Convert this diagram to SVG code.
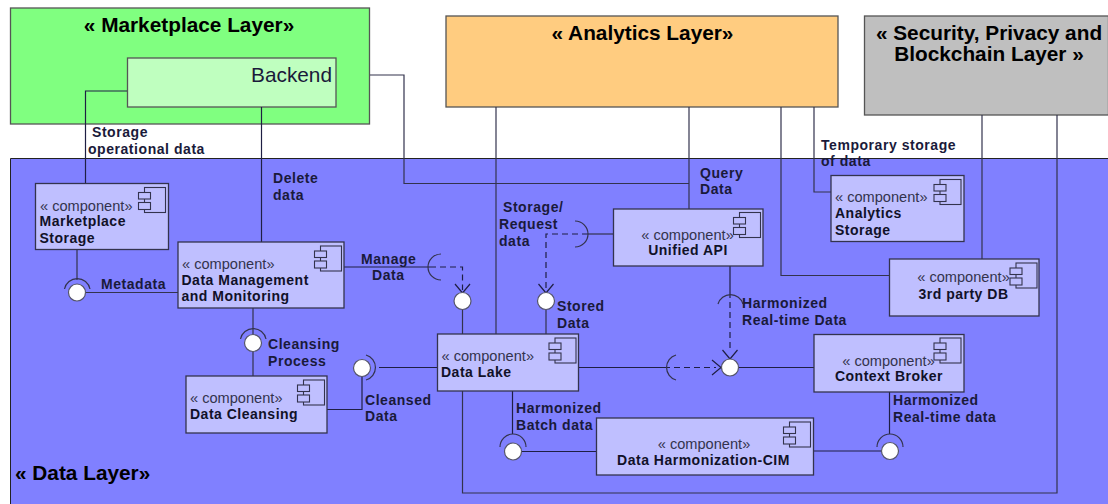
<svg xmlns="http://www.w3.org/2000/svg" width="1108" height="504" viewBox="0 0 1108 504">
<style>
text{font-family:"Liberation Sans",Arial,sans-serif;fill:#1a1a3a}
.layer{stroke:#555;stroke-width:1.3}
.title{font-size:20.8px;font-weight:bold;fill:#000}
.st{font-size:14.6px;fill:#33334d}
.nm{font-size:14px;font-weight:bold;letter-spacing:.5px;fill:#111128}
.lb{font-size:14px;font-weight:bold;letter-spacing:.55px}
.box{fill:#bfbfff;stroke:#33334d;stroke-width:1.3}
.ic{fill:#bfbfff;stroke:#33334d;stroke-width:1.1}
.c{fill:none;stroke:#1f1f44;stroke-width:1.2}
.d{fill:none;stroke:#1f1f44;stroke-width:1.2;stroke-dasharray:6 4}
.s{fill:none;stroke:#33334d;stroke-width:1.2}
.b{fill:#fff;stroke:#55556a;stroke-width:1.2}
.a{fill:none;stroke:#1f1f44;stroke-width:1.2}
</style>
<defs>
<g id="i"><rect class="ic" x="6" y="0" width="21" height="25"/><rect class="ic" x="0" y="5" width="12" height="6.500"/><rect class="ic" x="0" y="15" width="12" height="7"/></g>
</defs>
<rect width="1108" height="504" fill="#fff"/>
<g id="data-layer"><path d="M1108 158.500H10.500V504" fill="#8080ff" stroke="#222"/><rect x="11" y="159" width="1097" height="345" fill="#8080ff"/><text class="title" x="15" y="480">« Data Layer»</text></g>
<g id="marketplace-layer"><rect class="layer" x="10.500" y="8" width="359" height="116" fill="#80ff80"/><text class="title" x="189" y="32" text-anchor="middle">« Marketplace Layer»</text></g>
<g id="backend"><rect class="layer" x="127.500" y="58" width="208.500" height="49" fill="#bfffbf"/><text x="332" y="82" text-anchor="end" font-size="20.800" fill="#222">Backend</text></g>
<g id="analytics-layer"><rect class="layer" x="446" y="16" width="392" height="91" fill="#ffcc80"/><text class="title" x="642.500" y="40" text-anchor="middle">« Analytics Layer»</text></g>
<g id="security-layer"><rect class="layer" x="864.500" y="16" width="244" height="99" fill="#bfbfbf"/><text class="title" x="989" y="40" text-anchor="middle">« Security, Privacy and</text><text class="title" x="989" y="61" text-anchor="middle">Blockchain Layer »</text></g>
<g id="connectors">
<path class="c" d="M127 91H85.500V183"/><path class="c" d="M261.500 107V242"/>
<path class="s" d="M370 75H404V183.500H689"/><path class="s" d="M496 107V334"/><path class="s" d="M689 107V209"/><path class="s" d="M781 107V275.500H889"/><path class="s" d="M814 107V192H831"/><path class="s" d="M982 115V259"/>
<path class="s" d="M1057 115V493H462.500V391"/>
<path class="s" d="M77 249V280M86 292.500H178"/><path class="c" d="M344 267H430"/><path class="s" d="M253 308V335M253 351V376"/>
<path class="c" d="M327 409.500H362V377M379 367.500H437"/>
<path class="s" d="M462.500 309V334M546 309V334"/><path class="d" d="M430 267H462.500V290M588 234H546V290"/>
<path class="s" d="M588 234H613"/><path class="c" d="M730 266V292"/><path class="d" d="M730 292V352"/>
<path class="c" d="M578 367.500H664"/><path class="d" d="M664 367.500H716"/><path class="c" d="M739 367.500H814"/>
<path class="c" d="M512.500 391V434M522 451.500H596"/><path class="c" d="M889.500 392V434M813 451H881"/>
<path class="a" d="M455 284 462.500 293 470 284M538.500 284 546 293 553.500 284M722.500 350 730 359 737.500 350M712 360 721 367.500 712 375"/>
<path class="s" d="M64.500 289A13 13 0 0 1 90 289M240.500 339A13 13 0 0 1 266 339M441 254A13 13 0 0 0 441 280M575 221A13 13 0 0 1 575 247M366 355A13 13 0 0 1 366 380M718 304A13 13 0 0 1 743 304M676 355A13 13 0 0 0 676 380M500 447A13 13 0 0 1 526 447M877 447A13 13 0 0 1 903 447"/>
<circle class="b" cx="77" cy="292.500" r="8.500"/><circle class="b" cx="253" cy="343" r="8.500"/><circle class="b" cx="362" cy="368" r="8.500"/><circle class="b" cx="462.500" cy="301" r="8.500"/><circle class="b" cx="546" cy="301" r="8.500"/><circle class="b" cx="730" cy="367.500" r="8.500"/><circle class="b" cx="513" cy="451.500" r="8.500"/><circle class="b" cx="890" cy="451" r="8.500"/>
</g>
<g id="marketplace-storage"><rect class="box" x="35.500" y="183.500" width="133" height="66"/><use href="#i" x="138.500" y="187.500"/><text class="st" x="40" y="211">« component»</text><text class="nm" x="39.500" y="226">Marketplace</text><text class="nm" x="39.500" y="243">Storage</text></g>
<g id="data-management"><rect class="box" x="178" y="242" width="166" height="66"/><use href="#i" x="314.500" y="246"/><text class="st" x="182" y="269">« component»</text><text class="nm" x="181.500" y="285">Data Management</text><text class="nm" x="181.500" y="301">and Monitoring</text></g>
<g id="data-cleansing"><rect class="box" x="186" y="376" width="141" height="57"/><use href="#i" x="297.500" y="380"/><text class="st" x="190" y="403">« component»</text><text class="nm" x="190" y="419">Data Cleansing</text></g>
<g id="data-lake"><rect class="box" x="437.500" y="334" width="141" height="57"/><use href="#i" x="549" y="338"/><text class="st" x="441.500" y="361">« component»</text><text class="nm" x="441" y="377">Data Lake</text></g>
<g id="unified-api"><rect class="box" x="613.500" y="209" width="149.500" height="57"/><use href="#i" x="733.500" y="212.500"/><text class="st" x="687.500" y="240" text-anchor="middle">« component»</text><text class="nm" x="688" y="255" text-anchor="middle">Unified API</text></g>
<g id="data-harmonization"><rect class="box" x="596.500" y="418" width="217" height="57"/><use href="#i" x="783.500" y="422"/><text class="st" x="704" y="449" text-anchor="middle">« component»</text><text class="nm" x="703.500" y="465" text-anchor="middle">Data Harmonization-CIM</text></g>
<g id="analytics-storage"><rect class="box" x="831" y="175.500" width="133" height="66"/><use href="#i" x="934" y="179.500"/><text class="st" x="835" y="202">« component»</text><text class="nm" x="835" y="218">Analytics</text><text class="nm" x="835" y="235">Storage</text></g>
<g id="third-party-db"><rect class="box" x="889.500" y="259" width="149.500" height="57"/><use href="#i" x="1010" y="263"/><text class="st" x="963.500" y="282" text-anchor="middle">« component»</text><text class="nm" x="963.500" y="299" text-anchor="middle">3rd party DB</text></g>
<g id="context-broker"><rect class="box" x="814" y="334.500" width="150" height="57.500"/><use href="#i" x="934" y="338"/><text class="st" x="888.500" y="366" text-anchor="middle">« component»</text><text class="nm" x="889" y="381" text-anchor="middle">Context Broker</text></g>
<g id="labels">
<text class="lb" x="92" y="137">Storage</text><text class="lb" x="88" y="154">operational data</text>
<text class="lb" x="273" y="183">Delete</text><text class="lb" x="273" y="200">data</text>
<text class="lb" x="101" y="289">Metadata</text>
<text class="lb" x="361" y="264">Manage</text><text class="lb" x="372" y="280">Data</text>
<text class="lb" x="268" y="349">Cleansing</text><text class="lb" x="268" y="366">Process</text>
<text class="lb" x="365" y="405">Cleansed</text><text class="lb" x="365" y="421">Data</text>
<text class="lb" x="503" y="212">Storage/</text><text class="lb" x="499" y="229">Request</text><text class="lb" x="499" y="246">data</text>
<text class="lb" x="557" y="311">Stored</text><text class="lb" x="557" y="328">Data</text>
<text class="lb" x="516" y="413">Harmonized</text><text class="lb" x="516" y="430">Batch data</text>
<text class="lb" x="700" y="178">Query</text><text class="lb" x="700" y="194">Data</text>
<text class="lb" x="742" y="308">Harmonized</text><text class="lb" x="742" y="325">Real-time Data</text>
<text class="lb" x="821" y="150">Temporary storage</text><text class="lb" x="821" y="166">of data</text>
<text class="lb" x="893" y="405">Harmonized</text><text class="lb" x="893" y="422">Real-time data</text>
</g>
</svg>
